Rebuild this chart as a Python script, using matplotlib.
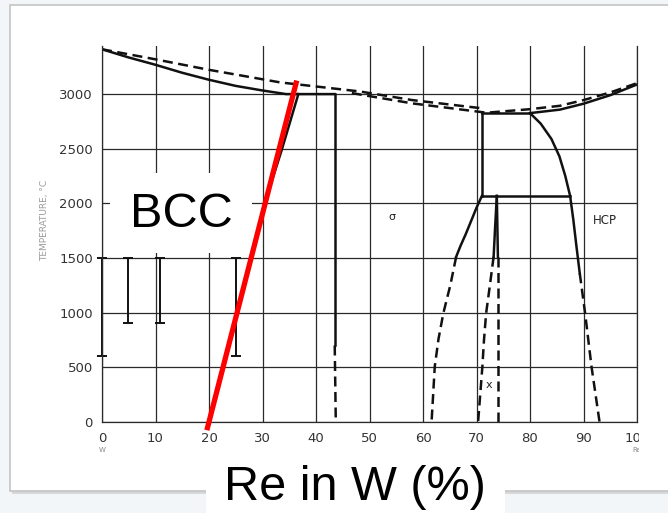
import matplotlib.pyplot as plt
from matplotlib.patches import Rectangle

# W-Re phase diagram (scanned slide) with BCC overlay

x_ticks = [0, 10, 20, 30, 40, 50, 60, 70, 80, 90, 100]
t_ticks = [0, 500, 1000, 1500, 2000, 2500, 3000]

# W-rich side: solidus (solid) and two liquidus lines (dashed)
sol_w_x = [0, 5, 10, 15, 20, 25, 30, 34.4, 43.5]
sol_w_t = [3410, 3335, 3268, 3195, 3131, 3075, 3033, 3000, 3000]
liq_a_x = [0, 10, 20, 33.3, 48.2, 58, 71]
liq_a_t = [3410, 3318, 3222, 3107, 3024, 2945, 2870]
liq_b_x = [46.7, 58, 71.5]
liq_b_t = [3009, 2915, 2832]

# Re-rich side
liq_re_x = [72.5, 80, 85.6, 90, 95, 100]
liq_re_t = [2832, 2862, 2893, 2945, 3015, 3100]
sol_re_x = [80, 85.6, 90, 95, 100]
sol_re_t = [2826, 2858, 2912, 2990, 3088]

# BCC solvus
bcc_x = [36.7, 33.6, 30.4]
bcc_t = [3000, 2490, 2000]

# sigma phase field
sig_l_x = [43.5, 43.5]
sig_l_t = [3000, 700]
sig_l_dash_x = [43.5, 43.7]
sig_l_dash_t = [700, 0]
perit_x = [71, 80]
perit_t = [2826, 2826]
box_x = [71, 71]
box_t = [2826, 2068]
eut_x = [71, 87.5]
eut_t = [2068, 2068]
sig_r_x = [71, 70, 69, 68, 67, 66.2]
sig_r_t = [2068, 1960, 1840, 1720, 1610, 1512]
sig_r_dash_x = [66.2, 65.1, 63.8, 62.9, 62.2, 61.6]
sig_r_dash_t = [1512, 1250, 995, 760, 508, 0]

# chi phase
chi_l_x = [73.8, 73.5, 73.2]
chi_l_t = [2068, 1800, 1512]
chi_l_dash_x = [73.2, 72.5, 71.8, 71.4, 71.1, 70.3]
chi_l_dash_t = [1512, 1250, 995, 750, 508, 0]
chi_r_x = [73.8, 74.0]
chi_r_t = [2068, 1512]
chi_r_dash_x = [74.0, 74.0]
chi_r_dash_t = [1512, 0]

# HCP boundary
hcp_x = [80, 82, 84, 85.5, 86.6, 87.5, 88.1, 88.7, 89.3]
hcp_t = [2826, 2730, 2590, 2430, 2250, 2068, 1850, 1600, 1360]
hcp_dash_x = [89.3, 90.3, 91.5, 93]
hcp_dash_t = [1360, 995, 506, 0]

# solubility bars
bar_x = [0, 4.8, 10.8, 25]
bar_lo = [605, 909, 909, 605]
bar_hi = [1500, 1500, 1500, 1500]

# red overlay line
red_x = [19.6, 36.4]
red_t = [-75, 3124]

W, H = 668, 513
def fx(px):
    return px / W
def fy(py):
    return 1 - py / H

fig = plt.figure(figsize=(W / 100, H / 100), dpi=100)
fig.patch.set_facecolor('#f3f6f9')

# slide frame
fig.add_artist(Rectangle((fx(12), fy(494)), fx(700) - fx(12), fy(7) - fy(494),
                         transform=fig.transFigure, facecolor='#d8d8d8',
                         edgecolor='none', zorder=-12))
fig.add_artist(Rectangle((fx(10), fy(491)), fx(700) - fx(10), fy(5) - fy(491),
                         transform=fig.transFigure, facecolor='white',
                         edgecolor='#c4c4c4', lw=1.2, zorder=-11))

ax = fig.add_axes([fx(102), fy(422), fx(637) - fx(102), fy(46) - fy(422)])
ax.patch.set_visible(False)
ax.set_xlim(0, 100)
ax.set_ylim(0, 3440)
ax.set_xticks(x_ticks)
ax.set_yticks(t_ticks)
ax.grid(True, color='#2a2a2a', lw=0.9)
ax.set_axisbelow(True)
for s in ['left', 'bottom', 'right']:
    ax.spines[s].set_color('#2a2a2a')
    ax.spines[s].set_linewidth(0.9)
ax.spines['top'].set_visible(False)
ax.tick_params(length=0, labelsize=9.5, labelcolor='#333333')
ax.tick_params(axis='x', pad=7)
ax.tick_params(axis='y', pad=6.5)

ink = '#111111'
lw = 1.8
dash = (0, (4, 2.2))

ax.plot(sol_w_x, sol_w_t, color=ink, lw=lw)
ax.plot(liq_a_x, liq_a_t, color=ink, lw=lw, ls=dash)
ax.plot(liq_b_x, liq_b_t, color=ink, lw=lw, ls=dash)
ax.plot(liq_re_x, liq_re_t, color=ink, lw=lw, ls=dash)
ax.plot(sol_re_x, sol_re_t, color=ink, lw=lw)
ax.plot(bcc_x, bcc_t, color=ink, lw=lw)
ax.plot(sig_l_x, sig_l_t, color=ink, lw=lw)
ax.plot(sig_l_dash_x, sig_l_dash_t, color=ink, lw=lw, ls=dash)
ax.plot(perit_x, perit_t, color=ink, lw=lw)
ax.plot(box_x, box_t, color=ink, lw=lw)
ax.plot(eut_x, eut_t, color=ink, lw=lw)
ax.plot(sig_r_x, sig_r_t, color=ink, lw=lw)
ax.plot(sig_r_dash_x, sig_r_dash_t, color=ink, lw=lw, ls=dash)
ax.plot(chi_l_x, chi_l_t, color=ink, lw=lw)
ax.plot(chi_l_dash_x, chi_l_dash_t, color=ink, lw=lw, ls=dash)
ax.plot(chi_r_x, chi_r_t, color=ink, lw=lw)
ax.plot(chi_r_dash_x, chi_r_dash_t, color=ink, lw=lw, ls=dash)
ax.plot(hcp_x, hcp_t, color=ink, lw=lw)
ax.plot(hcp_dash_x, hcp_dash_t, color=ink, lw=lw, ls=dash)

mid = [(a + b) / 2 for a, b in zip(bar_lo, bar_hi)]
half = [(b - a) / 2 for a, b in zip(bar_lo, bar_hi)]
ax.errorbar(bar_x, mid, yerr=half, fmt='none', ecolor=ink, elinewidth=1.4,
            capsize=3.5, capthick=1.4, clip_on=False)

ax.text(54.2, 1875, 'σ', fontsize=8, color='#222', ha='center', va='center')
ax.text(94, 1848, 'HCP', fontsize=8.5, color='#222', ha='center', va='center')
ax.text(72.3, 338, 'x', fontsize=8, color='#222', ha='center', va='center')

ax.text(-0.107, 0.537, 'TEMPERATURE, °C', transform=ax.transAxes, rotation=90,
        fontsize=6.5, color='#9a9a9a', ha='center', va='center')
ax.text(0, -0.075, 'W', transform=ax.transAxes, fontsize=5, color='#888',
        ha='center', va='center')
ax.text(1, -0.075, 'Re', transform=ax.transAxes, fontsize=5, color='#888',
        ha='center', va='center')

# BCC label with white box
ax.add_patch(Rectangle((1.5, 1546), 26.5, 732, facecolor='white',
                       edgecolor='none', zorder=3))
ax.text(14.8, 1900, 'BCC', fontsize=35, family='Liberation Sans',
        color='black', ha='center', va='center', zorder=4)

ax.plot(red_x, red_t, color='#ff0000', lw=3.8, solid_capstyle='butt',
        clip_on=False, zorder=5)

# scan cut-off at right edge
fig.add_artist(Rectangle((fx(639), fy(452)), fx(667) - fx(639), fy(427) - fy(452),
                         transform=fig.transFigure, facecolor='white',
                         edgecolor='none', zorder=5))

# x-axis caption box
fig.add_artist(Rectangle((fx(206), fy(513)), fx(505) - fx(206), fy(455) - fy(513),
                         transform=fig.transFigure, facecolor='white',
                         edgecolor='none', zorder=6))
fig.text(fx(355), fy(487), 'Re in W (%)', fontsize=35, family='Liberation Sans',
         color='black', ha='center', va='center', zorder=7)

fig.savefig('out.png', dpi=100, facecolor=fig.get_facecolor())
